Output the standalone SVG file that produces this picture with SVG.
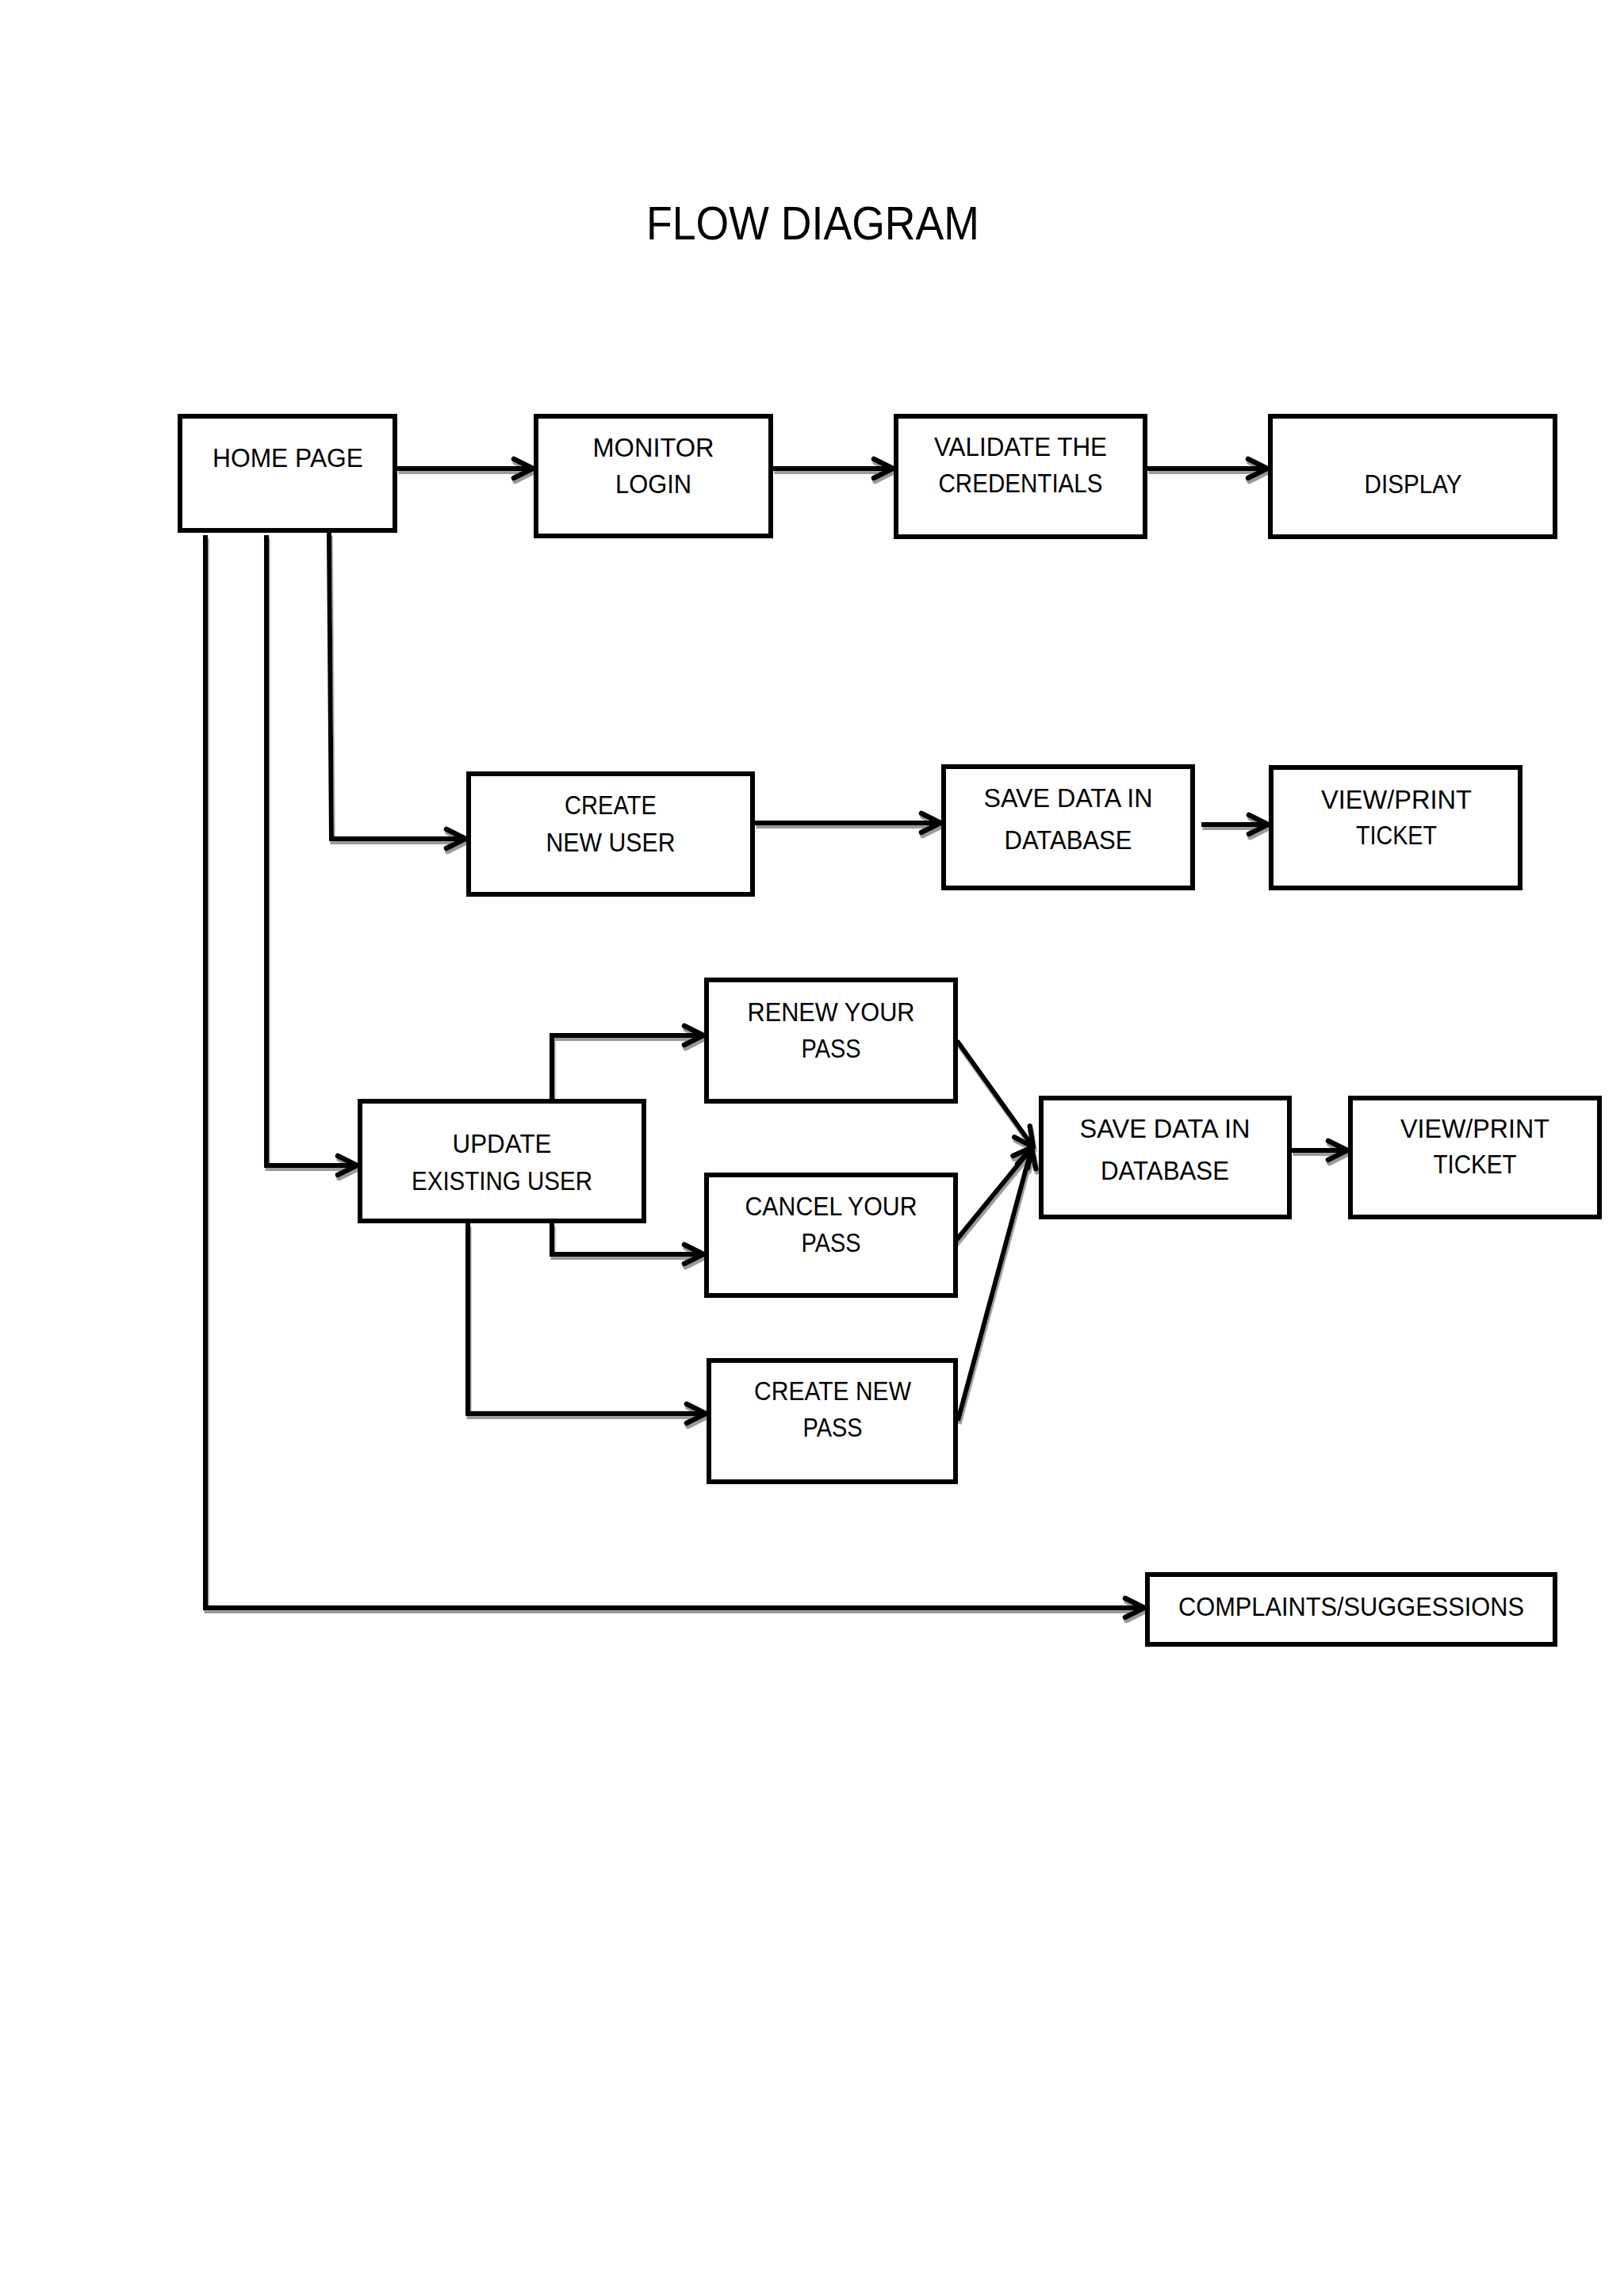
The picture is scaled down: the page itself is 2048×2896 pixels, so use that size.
<svg xmlns="http://www.w3.org/2000/svg" width="2048" height="2896" viewBox="0 0 2048 2896">
  <style>
    .box { fill: #ffffff; stroke: #000000; stroke-width: 6; }
    .lbl { font-family: "Liberation Sans", Arial, sans-serif; font-size: 33.5px; text-anchor: middle; fill: #000000; }
    .title { font-family: "Liberation Sans", Arial, sans-serif; font-size: 60px; text-anchor: middle; fill: #000000; }
    .conn { fill: none; stroke: #000000; stroke-width: 6; stroke-linejoin: miter; marker-end: url(#arrow); }
  </style>
  <defs>
    <marker id="arrow" markerUnits="userSpaceOnUse" markerWidth="40" markerHeight="40" refX="0" refY="0" orient="auto" overflow="visible">
      <path d="M -24 -12 L 0 0 L -24 12" fill="none" stroke="#000000" stroke-width="6.5" stroke-linecap="round" stroke-linejoin="round"/>
    </marker>
    <filter id="shadow" x="-5%" y="-5%" width="110%" height="110%">
      <feDropShadow dx="1.5" dy="4" stdDeviation="0.6" flood-color="#9a9a9a" flood-opacity="1"/>
    </filter>
  </defs>
  <rect x="0" y="0" width="2048" height="2896" fill="#ffffff"/>

  <text class="title" x="1025" y="302" textLength="420" lengthAdjust="spacingAndGlyphs">FLOW DIAGRAM</text>

  <g id="connectors" filter="url(#shadow)">
    <path class="conn" d="M 501 591 H 672"/>
    <path class="conn" d="M 975 591 H 1126"/>
    <path class="conn" d="M 1447 591 H 1598"/>
    <path class="conn" d="M 415 672 L 418 1058 H 587"/>
    <path class="conn" d="M 952 1038 H 1186"/>
    <path class="conn" d="M 1515 1040 H 1599"/>
    <path class="conn" d="M 336 675 V 1470 H 450"/>
    <path class="conn" d="M 696 1389 V 1306 H 887"/>
    <path class="conn" d="M 696 1543 V 1582 H 887"/>
    <path class="conn" d="M 590 1543 V 1783 H 890"/>
    <path class="conn" d="M 1207 1313 L 1303 1447"/>
    <path class="conn" d="M 1203 1568 L 1302 1447"/>
    <path class="conn" d="M 1208 1792 L 1301 1448"/>
    <path class="conn" d="M 1629 1451 H 1699"/>
    <path class="conn" d="M 259 675 V 2028 H 1443"/>
  </g>

  <g id="home-page">
    <rect class="box" x="227" y="525" width="271" height="144"/>
    <text class="lbl" x="363" y="589" textLength="190" lengthAdjust="spacingAndGlyphs">HOME PAGE</text>
  </g>
  <g id="monitor-login">
    <rect class="box" x="676" y="525" width="296" height="151"/>
    <text class="lbl" x="824" y="576" textLength="153" lengthAdjust="spacingAndGlyphs">MONITOR</text>
    <text class="lbl" x="824" y="622" textLength="96" lengthAdjust="spacingAndGlyphs">LOGIN</text>
  </g>
  <g id="validate-credentials">
    <rect class="box" x="1130" y="525" width="314" height="152"/>
    <text class="lbl" x="1287" y="575" textLength="218" lengthAdjust="spacingAndGlyphs">VALIDATE THE</text>
    <text class="lbl" x="1287" y="621" textLength="207" lengthAdjust="spacingAndGlyphs">CREDENTIALS</text>
  </g>
  <g id="display">
    <rect class="box" x="1602" y="525" width="359" height="152"/>
    <text class="lbl" x="1782" y="622" textLength="123" lengthAdjust="spacingAndGlyphs">DISPLAY</text>
  </g>
  <g id="create-new-user">
    <rect class="box" x="591" y="976" width="358" height="152"/>
    <text class="lbl" x="770" y="1027" textLength="116" lengthAdjust="spacingAndGlyphs">CREATE</text>
    <text class="lbl" x="770" y="1074" textLength="163" lengthAdjust="spacingAndGlyphs">NEW USER</text>
  </g>
  <g id="save-data-1">
    <rect class="box" x="1190" y="967" width="314" height="153"/>
    <text class="lbl" x="1347" y="1018" textLength="213" lengthAdjust="spacingAndGlyphs">SAVE DATA IN</text>
    <text class="lbl" x="1347" y="1071" textLength="161" lengthAdjust="spacingAndGlyphs">DATABASE</text>
  </g>
  <g id="view-print-1">
    <rect class="box" x="1603" y="968" width="314" height="152"/>
    <text class="lbl" x="1761" y="1020" textLength="190" lengthAdjust="spacingAndGlyphs">VIEW/PRINT</text>
    <text class="lbl" x="1761" y="1065" textLength="102" lengthAdjust="spacingAndGlyphs">TICKET</text>
  </g>
  <g id="update-existing-user">
    <rect class="box" x="454" y="1389" width="358" height="151"/>
    <text class="lbl" x="633" y="1454" textLength="125" lengthAdjust="spacingAndGlyphs">UPDATE</text>
    <text class="lbl" x="633" y="1501" textLength="228" lengthAdjust="spacingAndGlyphs">EXISTING USER</text>
  </g>
  <g id="renew-pass">
    <rect class="box" x="891" y="1236" width="314" height="153"/>
    <text class="lbl" x="1048" y="1288" textLength="211" lengthAdjust="spacingAndGlyphs">RENEW YOUR</text>
    <text class="lbl" x="1048" y="1334" textLength="75" lengthAdjust="spacingAndGlyphs">PASS</text>
  </g>
  <g id="cancel-pass">
    <rect class="box" x="891" y="1482" width="314" height="152"/>
    <text class="lbl" x="1048" y="1533" textLength="217" lengthAdjust="spacingAndGlyphs">CANCEL YOUR</text>
    <text class="lbl" x="1048" y="1579" textLength="75" lengthAdjust="spacingAndGlyphs">PASS</text>
  </g>
  <g id="create-new-pass">
    <rect class="box" x="894" y="1716" width="311" height="153"/>
    <text class="lbl" x="1050" y="1766" textLength="198" lengthAdjust="spacingAndGlyphs">CREATE NEW</text>
    <text class="lbl" x="1050" y="1812" textLength="75" lengthAdjust="spacingAndGlyphs">PASS</text>
  </g>
  <g id="save-data-2">
    <rect class="box" x="1313" y="1385" width="313" height="150"/>
    <text class="lbl" x="1469" y="1435" textLength="215" lengthAdjust="spacingAndGlyphs">SAVE DATA IN</text>
    <text class="lbl" x="1469" y="1488" textLength="162" lengthAdjust="spacingAndGlyphs">DATABASE</text>
  </g>
  <g id="view-print-2">
    <rect class="box" x="1703" y="1385" width="314" height="150"/>
    <text class="lbl" x="1860" y="1435" textLength="188" lengthAdjust="spacingAndGlyphs">VIEW/PRINT</text>
    <text class="lbl" x="1860" y="1480" textLength="105" lengthAdjust="spacingAndGlyphs">TICKET</text>
  </g>
  <g id="complaints-suggestions">
    <rect class="box" x="1447" y="1986" width="514" height="88"/>
    <text class="lbl" x="1704" y="2038" textLength="436" lengthAdjust="spacingAndGlyphs">COMPLAINTS/SUGGESSIONS</text>
  </g>
</svg>
